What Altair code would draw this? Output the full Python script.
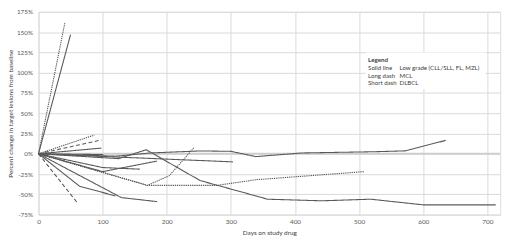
import altair as alt
import pandas as pd

# ---- data ----
series_names = ["S1", "S2", "S3", "S4", "S5", "S6", "S7", "S8", "S9", "S10",
                "D1", "D2", "T1", "T2", "T3", "T4"]
series_style = ["solid", "solid", "solid", "solid", "solid", "solid", "solid", "solid", "solid", "solid",
                "long", "long", "short", "short", "short", "short"]
series_days = [
    [0, 50],
    [0, 98],
    [0, 64, 120],
    [0, 110, 129, 185],
    [0, 303],
    [0, 100, 158],
    [0, 100, 185],
    [0, 125, 168, 252, 339, 357, 442, 518, 600, 713],
    [0, 120, 175, 252, 300, 339, 411, 523, 572, 635],
    [0, 101],
    [0, 98],
    [0, 62],
    [0, 41],
    [0, 87],
    [0, 170, 204, 243],
    [0, 170, 278, 339, 508],
]
series_pct = [
    [0, 147],
    [0, 7],
    [0, -40, -52],
    [0, -46, -54, -59],
    [0, -10],
    [0, -17, -19],
    [0, -22, -9],
    [0, -6, 5, -33, -52, -56, -58, -56, -63, -63],
    [0, -3, 1, 3.5, 3, -3.5, 1, 2.5, 3.6, 16.5],
    [0, -1],
    [0, 17],
    [0, -62],
    [0, 161],
    [0, 23],
    [0, -39, -27, 8],
    [0, -39, -39, -32, -22],
]

y_ticks = [-75, -50, -25, 0, 25, 50, 75, 100, 125, 150, 175]
x_ticks = [0, 100, 200, 300, 400, 500, 600, 700]

legend_title = "Legend"
legend_keys = ["Solid line", "Long dash", "Short dash"]
legend_vals = ["Low grade (CLL/SLL, FL, MZL)", "MCL", "DLBCL"]

# ---- build table ----
rows = []
for name, style, ds, ps in zip(series_names, series_style, series_days, series_pct):
    for i, (d, p) in enumerate(zip(ds, ps)):
        rows.append({"series": name, "style": style, "day": d, "pct": p, "ord": i})
df = pd.DataFrame(rows)

FONT = "Lato"
GRAY = "#595959"
GRID = "#d9d9d9"

xscale = alt.Scale(domain=[0, 720], nice=False, zero=False)
yscale = alt.Scale(domain=[-75, 175], nice=False, zero=False)

x_axis = alt.Axis(values=x_ticks, title="Days on study drug", grid=True, gridColor=GRID,
                  gridWidth=1, domain=False, ticks=False, labelFont=FONT, labelFontSize=6.5,
                  labelColor=GRAY, labelPadding=4, labelOverlap=False, labelFlush=False,
                  titleFont=FONT, titleFontSize=6.5,
                  titleFontWeight="normal", titleColor="#404040", titlePadding=5)
y_axis = alt.Axis(values=y_ticks, labelExpr="datum.value + '%'",
                  title="Percent change in target lesions from baseline", grid=True,
                  gridColor=GRID, gridWidth=1, domain=False, ticks=False, labelFont=FONT,
                  labelFontSize=6.5, labelColor=GRAY, labelPadding=6, labelOverlap=False,
                  labelFlush=False, labelBound=False, titleFont=FONT,
                  titleFontSize=6.5, titleFontWeight="normal", titleColor="#404040", titlePadding=3)

base_axes = alt.Chart(pd.DataFrame({"day": [0], "pct": [0]})).mark_rule(
    color="#cfcfcf", strokeWidth=2
).encode(
    x=alt.X("day:Q", scale=xscale, axis=x_axis),
    x2=alt.X2(datum=720),
    y=alt.Y("pct:Q", scale=yscale, axis=y_axis),
)

lines = alt.Chart(df).mark_line(strokeWidth=1.1, color=GRAY).encode(
    x=alt.X("day:Q", scale=xscale, axis=x_axis),
    y=alt.Y("pct:Q", scale=yscale, axis=y_axis),
    detail="series:N",
    order="ord:Q",
    strokeDash=alt.StrokeDash("style:N", scale=alt.Scale(
        domain=["solid", "long", "short"], range=[[1, 0], [4, 2.5], [1.3, 0.9]]), legend=None),
)

box = alt.Chart(pd.DataFrame({"x1": [511], "x2": [697], "y1": [80], "y2": [125]})).mark_rect(
    color="white"
).encode(
    x=alt.X("x1:Q", scale=xscale, axis=x_axis), x2="x2:Q",
    y=alt.Y("y1:Q", scale=yscale, axis=y_axis), y2="y2:Q",
)

title_df = pd.DataFrame({"day": [514], "pct": [115.6], "t": [legend_title]})
legend_title_mark = alt.Chart(title_df).mark_text(
    align="left", baseline="middle", font=FONT, fontSize=6.3, fontWeight="bold", color="#404040"
).encode(x=alt.X("day:Q", scale=xscale, axis=x_axis), y=alt.Y("pct:Q", scale=yscale, axis=y_axis), text="t:N")

key_df = pd.DataFrame({"day": [514] * 3, "pct": [105.6, 95.8, 86.8], "t": legend_keys})
val_df = pd.DataFrame({"day": [563] * 3, "pct": [105.6, 95.8, 86.8], "t": legend_vals})
legend_keys_mark = alt.Chart(key_df).mark_text(
    align="left", baseline="middle", font=FONT, fontSize=6.2, color="#404040"
).encode(x=alt.X("day:Q", scale=xscale, axis=x_axis), y=alt.Y("pct:Q", scale=yscale, axis=y_axis), text="t:N")
legend_vals_mark = alt.Chart(val_df).mark_text(
    align="left", baseline="middle", font=FONT, fontSize=6.2, color="#404040"
).encode(x=alt.X("day:Q", scale=xscale, axis=x_axis), y=alt.Y("pct:Q", scale=yscale, axis=y_axis), text="t:N")

chart = alt.layer(base_axes, lines, box, legend_title_mark, legend_keys_mark, legend_vals_mark).properties(
    width=469, height=206,
    autosize=alt.AutoSizeParams(type="none"),
    padding={"left": 31, "top": 2, "right": 12, "bottom": 29},
).configure_view(stroke=None).configure(background="white").configure_axis(labelOverlap=False)

chart.save("out.html", embed_options={"renderer": "svg", "actions": False})
